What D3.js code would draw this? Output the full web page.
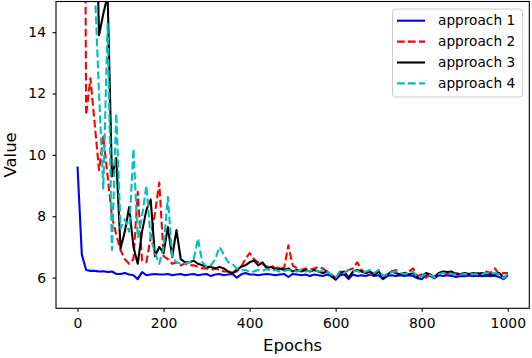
<!DOCTYPE html>
<html>
<head>
<meta charset="utf-8">
<script src="https://cdn.jsdelivr.net/npm/d3@7"></script>
<style>
  html, body { margin: 0; padding: 0; background: #fff; }
  svg { display: block; }
  text { font-family: "DejaVu Sans", sans-serif; fill: #000; }
</style>
</head>
<body>
<svg id="chart" width="532" height="358"></svg>
<script>
const epochs = [0,10,20,30,40,50,60,70,80,90,100,110,120,130,140,150,160,170,180,190,200,210,220,230,240,250,260,270,280,290,300,310,320,330,340,350,360,370,380,390,400,410,420,430,440,450,460,470,480,490,500,510,520,530,540,550,560,570,580,590,600,610,620,630,640,650,660,670,680,690,700,710,720,730,740,750,760,770,780,790,800,810,820,830,840,850,860,870,880,890,900,910,920,930,940,950,960,970,980,990,1000];

const approach1 = [9.62,6.75,6.25,6.22,6.22,6.2,6.21,6.18,6.2,6.12,
  6.12,6.15,6.1,6.08,5.95,6.18,6.08,6.1,6.12,6.1,
  6.1,6.12,6.08,6.1,6.12,6.08,6.1,6.12,6.08,6.1,
  6.12,6.05,6.1,6.12,6.08,6.1,6.12,6.0,6.1,6.15,
  6.1,6.1,6.08,6.1,6.12,6.1,6.08,6.1,6.12,6.02,
  6.12,6.1,6.08,6.1,6.05,6.1,6.08,6.05,6.1,6.05,
  5.93,6.08,6.1,5.95,6.1,6.05,6.08,6.05,6.1,6.05,
  6.08,5.95,6.05,6.08,6.05,6.08,6.05,6.08,6.05,5.98,
  5.95,6.08,6.05,5.98,6.08,6.05,6.08,6.05,6.02,6.05,
  6.05,6.07,6.05,6.06,6.05,6.06,6.05,6.06,6.02,5.95,
  6.08];

const approach2 = [60,40,11.3,12.5,11.0,9.5,10.6,9.3,8.0,7.4,
  6.9,6.6,6.45,6.6,8.8,6.55,6.5,7.3,8.1,9.1,
  6.7,6.6,6.45,6.5,6.4,6.45,6.4,6.4,6.35,6.3,
  6.3,6.25,6.3,6.25,6.2,6.2,6.15,6.2,6.35,6.6,
  6.8,6.6,6.5,6.45,6.35,6.4,6.3,6.35,6.3,7.05,
  6.4,6.3,6.25,6.3,6.25,6.3,6.35,6.3,6.2,6.1,
  6.0,6.2,6.15,6.25,6.3,6.5,6.25,6.15,6.1,6.15,
  6.1,6.05,6.1,6.2,6.25,6.1,6.15,6.2,6.3,6.05,
  6.1,6.0,6.1,6.05,6.15,6.1,6.15,6.1,6.15,6.1,
  6.1,6.12,6.1,6.15,6.1,6.2,6.15,6.3,6.1,6.15,
  6.15];

const approach3 = [40,35,30,25,20,13.9,14.6,15.2,9.3,9.9,
  6.95,7.5,8.3,7.0,6.45,7.5,8.2,8.55,6.7,7.0,
  6.8,7.65,6.67,7.55,6.6,6.5,6.5,6.55,6.45,6.4,
  6.35,6.35,6.3,6.35,6.3,6.2,6.15,6.25,6.35,6.4,
  6.5,6.56,6.4,6.5,6.3,6.35,6.25,6.3,6.25,6.3,
  6.2,6.25,6.2,6.25,6.2,6.25,6.2,6.15,6.2,6.05,
  5.95,6.15,6.2,6.0,6.2,6.25,6.2,6.15,6.2,6.1,
  6.2,6.0,6.1,6.2,6.15,6.1,6.15,6.1,6.15,6.0,
  6.05,6.15,6.1,6.0,6.15,6.2,6.18,6.2,6.1,6.12,
  6.15,6.12,6.15,6.12,6.15,6.12,6.1,6.1,6.15,6.0,
  6.1];

const approach4 = [50,40,32,25,15.5,12.0,8.9,14.3,6.9,11.35,
  7.6,7.9,7.5,10.2,7.3,8.0,9.0,7.3,6.8,6.45,
  7.0,8.63,6.67,6.5,6.45,6.45,6.5,6.6,7.27,6.5,
  6.35,6.4,6.6,7.0,6.75,6.5,6.45,6.3,6.24,6.25,
  6.2,6.2,6.25,6.22,6.28,6.22,6.25,6.2,6.22,6.25,
  6.22,6.2,6.25,6.2,6.22,6.25,6.2,6.22,6.18,6.1,
  6.0,6.2,6.15,6.25,6.2,6.22,6.15,6.2,6.25,6.15,
  6.25,6.05,6.1,6.18,6.2,6.15,6.12,6.15,6.2,6.0,
  6.05,6.12,6.08,6.0,6.12,6.15,6.15,6.12,6.1,6.1,
  6.12,6.1,6.12,6.1,6.12,6.15,6.12,6.15,6.1,5.98,
  6.12];

const seriesNames = ["approach 1","approach 2","approach 3","approach 4"];
const seriesColors = ["#0000ff","#ff0000","#000000","#00bfbf"];
const seriesDash = [null,"7.7,3.3",null,"7.7,3.3"];
const xTicks = [0,200,400,600,800,1000];
const yTicks = [6,8,10,12,14];

const svg = d3.select("#chart");
const L = 56, R = 529.3, T = 1.5, B = 308.3;

const x = d3.scaleLinear().domain([-50,1050]).range([L,R]);
const y = d3.scaleLinear().domain([5,15]).range([B,T]);

svg.append("defs").append("clipPath").attr("id","clip")
  .append("rect").attr("x",L).attr("y",T).attr("width",R-L).attr("height",B-T);

const allSeries = [approach1, approach2, approach3, approach4];
const line = d3.line().x((d,i)=>x(epochs[i])).y(d=>y(d));

const g = svg.append("g").attr("clip-path","url(#clip)");
allSeries.forEach((s,k)=>{
  g.append("path").datum(s)
    .attr("d", line)
    .attr("fill","none")
    .attr("stroke", seriesColors[k])
    .attr("stroke-width", 2.1)
    .attr("stroke-linejoin","round")
    .attr("stroke-dasharray", seriesDash[k]);
});

// axes
const xAxis = svg.append("g").attr("transform",`translate(0,${B})`)
  .call(d3.axisBottom(x).tickValues(xTicks).tickSize(3.5).tickPadding(6).tickFormat(d3.format("d")));
const yAxis = svg.append("g").attr("transform",`translate(${L},0)`)
  .call(d3.axisLeft(y).tickValues(yTicks).tickSize(3.5).tickPadding(6.5).tickFormat(d3.format("d")));
[xAxis,yAxis].forEach(a=>{
  a.select(".domain").remove();
  a.selectAll(".tick line").attr("stroke","#000").attr("stroke-width",1.1);
  a.selectAll(".tick text").attr("font-size","13.9px").attr("font-family","DejaVu Sans, sans-serif").attr("fill","#000");
});

// frame
svg.append("rect").attr("x",L).attr("y",T).attr("width",R-L).attr("height",B-T)
  .attr("fill","none").attr("stroke","#000").attr("stroke-width",1.1);

// axis labels
svg.append("text").attr("x",(L+R)/2).attr("y",350.5).attr("text-anchor","middle")
  .attr("font-size","16.5px").text("Epochs");
svg.append("text").attr("transform",`translate(15.5,${(T+B)/2}) rotate(-90)`)
  .attr("text-anchor","middle").attr("font-size","16.5px").text("Value");

// legend
const lg = svg.append("g");
lg.append("rect").attr("x",392.5).attr("y",9).attr("width",130).attr("height",88)
  .attr("rx",3).attr("fill","#fff").attr("fill-opacity",0.8)
  .attr("stroke","#cccccc").attr("stroke-width",1);
const rowY = [20.7, 41.6, 62.5, 83.4];
seriesNames.forEach((n,k)=>{
  lg.append("line").attr("x1",397).attr("x2",425).attr("y1",rowY[k]).attr("y2",rowY[k])
    .attr("stroke",seriesColors[k]).attr("stroke-width",2.1)
    .attr("stroke-dasharray",seriesDash[k]);
  lg.append("text").attr("x",438).attr("y",rowY[k]).attr("dy","0.35em")
    .attr("font-size","13.7px").text(n);
});
</script>
</body>
</html>
